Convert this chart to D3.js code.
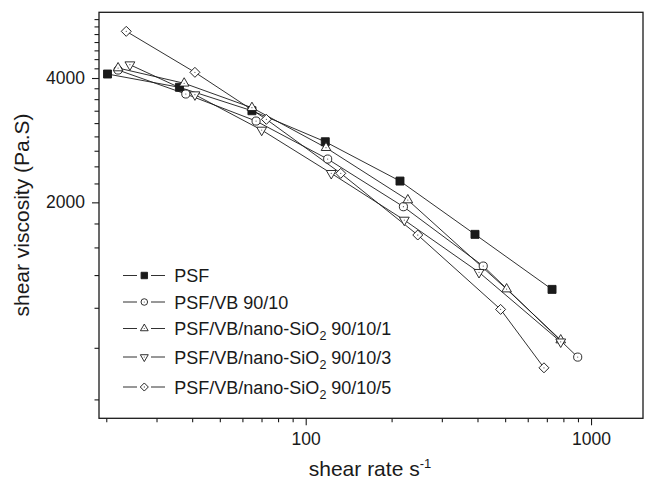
<!DOCTYPE html>
<html>
<head>
<meta charset="utf-8">
<script src="https://cdn.jsdelivr.net/npm/d3@7"></script>
<style>
  body { margin: 0; background: #fff; }
  text { font-family: Arial, "Liberation Sans", sans-serif; fill: #1a1a1a; }
</style>
</head>
<body>
<div id="chart"></div>
<script>
// values (shear rate in s-1, viscosity in Pa.S)
var seriesNames = ["PSF", "PSF/VB 90/10", "PSF/VB/nano-SiO2 90/10/1", "PSF/VB/nano-SiO2 90/10/3", "PSF/VB/nano-SiO2 90/10/5"];
var psfRate = [20.2, 36.1, 64.8, 117.1, 214, 392, 730];
var psfVisc = [4090, 3798, 3333, 2804, 2252, 1673, 1231];
var vbRate = [22, 38, 67, 119.4, 220, 419, 898];
var vbVisc = [4182, 3659, 3147, 2546, 1952, 1402, 844];
var si1Rate = [22, 37.5, 64.8, 117.8, 228, 506, 783];
var si1Visc = [4229, 3884, 3390, 2712, 2026, 1233, 928];
var si3Rate = [24.2, 40.9, 70.1, 122.9, 221.6, 405, 783];
var si3Visc = [4308, 3645, 2993, 2351, 1812, 1354, 919];
var si5Rate = [23.5, 40.9, 72.8, 132.7, 247, 482, 684];
var si5Visc = [5189, 4129, 3177, 2351, 1667, 1101, 795];

var xTickLabels = [100, 1000];
var yTickLabels = [2000, 4000];

var width = 645, height = 481;
var margin = {left: 99, right: 2, top: 12.3, bottom: 62.7};

var svg = d3.select("#chart").append("svg")
    .attr("width", width)
    .attr("height", height);

var x = d3.scaleLog().domain([18.86, 1521]).range([margin.left, width - margin.right]);
var y = d3.scaleLog().domain([600, 5770]).range([height - margin.bottom, margin.top]);

var ink = "#1a1a1a";

// x ticks: majors at decades, minors at 2..9
var xMinor = [];
[10, 100, 1000].forEach(function(d) {
  for (let i = 2; i < 10; i++) {
    let v = d * i;
    if (v >= x.domain()[0] && v <= x.domain()[1]) xMinor.push(v);
  }
});
var xAxis = d3.axisBottom(x).tickValues(xTickLabels).tickFormat(d3.format("d")).tickSize(7).tickPadding(7);
var xAxisMinor = d3.axisBottom(x).tickValues(xMinor).tickFormat("").tickSize(4);

// y ticks: majors 2000 apart, 8 linear minors in between (log axis)
var yMinor = [];
for (let i = 1; i < 27; i++) {
  let v = i * 2000 / 9;
  if (i % 9 == 0) continue;
  if (v >= y.domain()[0] && v <= y.domain()[1]) yMinor.push(v);
}
var yAxis = d3.axisLeft(y).tickValues(yTickLabels).tickFormat(d3.format("d")).tickSize(7).tickPadding(7);
var yAxisMinor = d3.axisLeft(y).tickValues(yMinor).tickFormat("").tickSize(4.5);

var gx = svg.append("g").attr("transform", "translate(0," + (height - margin.bottom) + ")");
gx.call(xAxisMinor);
gx.append("g").call(xAxis);
var gy = svg.append("g").attr("transform", "translate(" + margin.left + ",0)");
gy.call(yAxisMinor);
gy.append("g").call(yAxis);

svg.selectAll(".domain").remove();
svg.selectAll(".tick line").attr("stroke", ink).attr("stroke-width", 1.1);
svg.selectAll(".tick text").style("font-size", "17.5px").attr("fill", ink);

// frame
svg.append("rect")
    .attr("x", margin.left)
    .attr("y", margin.top)
    .attr("width", width - margin.right - margin.left)
    .attr("height", height - margin.bottom - margin.top)
    .attr("fill", "none")
    .attr("stroke", ink)
    .attr("stroke-width", 1.3);

// axis titles
var xt = svg.append("text")
    .attr("x", 370)
    .attr("y", 476)
    .attr("text-anchor", "middle")
    .style("font-size", "21px")
    .text("shear rate s");
xt.append("tspan").attr("dy", -8).style("font-size", "13px").text("-1");

svg.append("text")
    .attr("transform", "translate(29,215) rotate(-90)")
    .attr("text-anchor", "middle")
    .style("font-size", "21px")
    .text("shear viscosity (Pa.S)");

// series
var series = [
  {name: seriesNames[0], rate: psfRate, visc: psfVisc, sym: d3.symbolSquare, size: 64, filled: true, rot: 0},
  {name: seriesNames[1], rate: vbRate, visc: vbVisc, sym: d3.symbolCircle, size: 52, filled: false, rot: 0},
  {name: seriesNames[2], rate: si1Rate, visc: si1Visc, sym: d3.symbolTriangle, size: 40, filled: false, rot: 0},
  {name: seriesNames[3], rate: si3Rate, visc: si3Visc, sym: d3.symbolTriangle, size: 42, filled: false, rot: 180},
  {name: seriesNames[4], rate: si5Rate, visc: si5Visc, sym: d3.symbolSquare, size: 50, filled: false, rot: 45}
];

var line = d3.line()
    .x(function(d) { return x(d[0]); })
    .y(function(d) { return y(d[1]); });

function drawMarker(g, s, px, py, size) {
  let m = g.append("g").attr("transform", "translate(" + px + "," + py + ") rotate(" + s.rot + ")");
  m.append("path")
      .attr("d", d3.symbol().type(s.sym).size(size)())
      .attr("fill", s.filled ? "#1a1a1a" : "#fff")
      .attr("stroke", ink)
      .attr("stroke-width", 0.9);
  if (!s.filled) {
    m.append("circle").attr("r", 0.6).attr("fill", "#555");
  }
}

series.forEach(function(s) {
  let pts = d3.zip(s.rate, s.visc);
  svg.append("path")
      .datum(pts)
      .attr("d", line)
      .attr("fill", "none")
      .attr("stroke", ink)
      .attr("stroke-width", 0.9);
});
series.forEach(function(s) {
  let g = svg.append("g");
  d3.zip(s.rate, s.visc).forEach(function(p) {
    drawMarker(g, s, x(p[0]), y(p[1]), s.size);
  });
});

// legend
var legendBase = [282, 308.5, 335, 363.5, 393.5];
var legend = svg.append("g");
series.forEach(function(s, i) {
  let cy = legendBase[i] - 6.5;
  legend.append("line").attr("x1", 123).attr("x2", 137).attr("y1", cy).attr("y2", cy)
      .attr("stroke", ink).attr("stroke-width", 0.9);
  legend.append("line").attr("x1", 151).attr("x2", 165).attr("y1", cy).attr("y2", cy)
      .attr("stroke", ink).attr("stroke-width", 0.9);
  drawMarker(legend, s, 144.3, cy, s.size * 0.65);
  let t = legend.append("text")
      .attr("x", 174.3)
      .attr("y", legendBase[i])
      .style("font-size", "18px");
  let parts = s.name.split("SiO2");
  t.append("tspan").text(parts[0] + (parts.length > 1 ? "SiO" : ""));
  if (parts.length > 1) {
    t.append("tspan").attr("dy", 5).style("font-size", "12.5px").text("2");
    t.append("tspan").attr("dy", -5).text(parts[1]);
  }
});
</script>
</body>
</html>
